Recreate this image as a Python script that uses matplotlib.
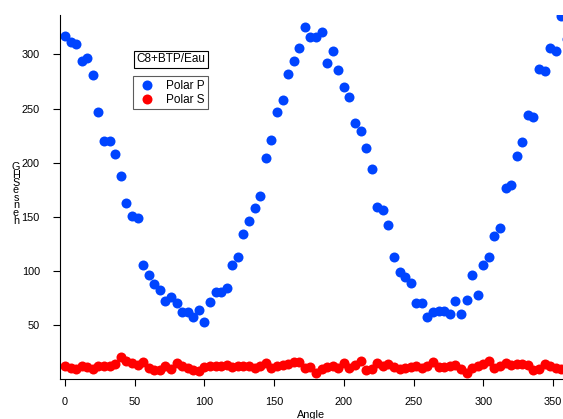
import matplotlib
matplotlib.use('Agg')
import matplotlib.pyplot as plt

plt.rcParams['font.family'] = ['Liberation Sans', 'DejaVu Sans']

# angle steps of 4 degrees, 0..360
angles = list(range(0, 361, 4))

polar_p = [317, 312, 310, 294, 297, 281, 247, 220, 220, 208,
           188, 163, 151, 149, 105, 96, 88, 82, 72, 76,
           70, 62, 62, 57, 64, 53, 71, 80, 80, 84,
           105, 113, 134, 146, 158, 169, 204, 221, 247, 258,
           282, 294, 306, 325, 316, 316, 321, 292, 303, 286,
           270, 261, 237, 229, 214, 194, 159, 156, 142, 113,
           99, 94, 89, 70, 70, 57, 62, 63, 63, 60,
           72, 60, 73, 96, 78, 105, 113, 132, 140, 177,
           179, 206, 219, 244, 242, 287, 285, 306, 303, 336,
           314]

polar_s = [12, 10, 9, 12, 11, 9, 12, 12, 12, 14,
           20, 17, 15, 13, 16, 10, 8, 8, 12, 9,
           15, 12, 10, 8, 7, 11, 12, 12, 12, 13,
           11, 12, 12, 12, 10, 12, 15, 10, 12, 13,
           14, 16, 16, 10, 11, 6, 9, 11, 12, 10,
           15, 10, 13, 17, 8, 9, 15, 12, 14, 11,
           9, 10, 11, 12, 10, 12, 16, 11, 11, 12,
           13, 9, 6, 10, 12, 14, 17, 10, 12, 15,
           13, 14, 14, 13, 8, 9, 14, 12, 10, 9,
           10]

legend_labels = ['Polar P', 'Polar S']
title_text = 'C8+BTP/Eau'

fig = plt.figure(figsize=(5.63, 4.19), dpi=100)
ax = fig.add_axes([60 / 563, 40 / 419, 1 - 60 / 563, 364 / 419])

ax.plot(angles, polar_p, 'o', color='#0044ff', ms=7.2, mec='none', label=legend_labels[0])
ax.plot(angles, polar_s, 'o', color='#ff0000', ms=7.2, mec='none', label=legend_labels[1])

ax.set_xlim(-3.6, 357.2)
ax.set_ylim(0, 336.5)
ax.set_xticks([0, 50, 100, 150, 200, 250, 300, 350])
ax.set_yticks([50, 100, 150, 200, 250, 300])
ax.spines['top'].set_visible(False)
ax.spines['right'].set_visible(False)
ax.tick_params(axis='y', direction='out', length=5, pad=9.5, labelsize=7.8)
ax.tick_params(axis='x', direction='out', length=5, pad=8, labelsize=7.8)

ax.set_xlabel('Angle', fontsize=7.8, labelpad=2)

# stacked y-label, letters upright
fig.text(16 / 563, 1 - 194 / 419, 'G\nH\nS\né\ns\nn\ne\nh', fontsize=7.8,
         ha='center', va='center', linespacing=0.7)

fig.text(171 / 563, 1 - 59.5 / 419, title_text, fontsize=8.5, ha='center', va='center',
         bbox=dict(boxstyle='square,pad=0.25', fc='white', ec='black', lw=0.8))

leg = ax.legend(loc='upper left', bbox_to_anchor=(133 / 563, 1 - 76.5 / 419),
                bbox_transform=fig.transFigure, fontsize=8.5, frameon=True,
                fancybox=False, borderpad=0.3, handlelength=1.8, handletextpad=0.7,
                labelspacing=0.15, borderaxespad=0, markerscale=1.0)
leg.get_frame().set_edgecolor('#333333')
leg.get_frame().set_linewidth(0.8)

fig.savefig('out.png', dpi=100)
